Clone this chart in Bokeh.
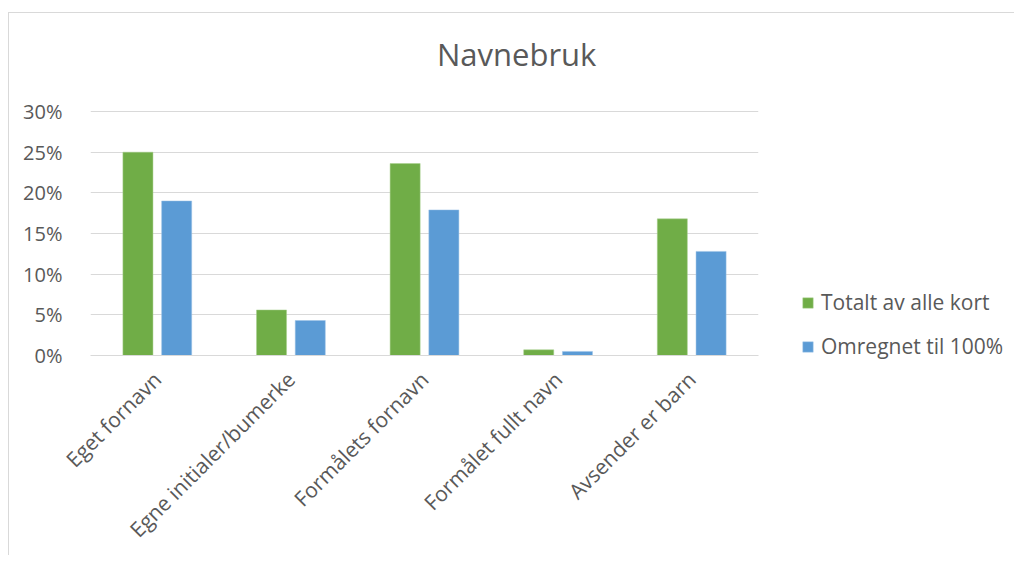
from bokeh.plotting import figure
from bokeh.models import ColumnDataSource, FactorRange, Legend, LegendItem, NumeralTickFormatter, FixedTicker, Label
from bokeh.transform import dodge
from bokeh.embed import file_html
from bokeh.resources import INLINE
import math

categories = ["Eget fornavn", "Egne initialer/bumerke", "Formålets fornavn", "Formålet fullt navn", "Avsender er barn"]
totalt = [0.250, 0.056, 0.236, 0.007, 0.168]
omregnet = [0.190, 0.043, 0.179, 0.005, 0.128]
series_names = ["Totalt av alle kort", "Omregnet til 100%"]
y_ticks = [0, 0.05, 0.10, 0.15, 0.20, 0.25, 0.30]
title_text = "Navnebruk"

FONT = "Open Sans"
TXT = "#595959"
GRID = "#d9d9d9"

# plot area: 0%..30% spans 244 px; frame extended upward to hold the title
FRAME_H = 342
Y_TOP = 0.30 * FRAME_H / 244

src = ColumnDataSource(dict(cat=categories, t=totalt, o=omregnet))

p = figure(x_range=FactorRange(*categories), y_range=(0, Y_TOP),
           frame_width=668, frame_height=FRAME_H, output_backend="svg", toolbar_location=None,
           min_border_left=81, min_border_right=245, min_border_top=0, min_border_bottom=195)

p.styles = {"border-left": f"1px solid {GRID}", "border-top": f"1px solid {GRID}",
            "margin-top": "12px", "margin-left": "8px"}

r1 = p.vbar(x=dodge("cat", -0.145, range=p.x_range), top="t", width=0.225, source=src,
            fill_color="#70AD47", line_color="#A9D18E", line_width=0.5)
r2 = p.vbar(x=dodge("cat", 0.145, range=p.x_range), top="o", width=0.225, source=src,
            fill_color="#5B9BD5", line_color="#9DC3E6", line_width=0.5)

title = Label(x=3.19, y=0.3705, text=title_text,
              text_font=FONT, text_font_size="31px", text_color=TXT,
              text_baseline="alphabetic", text_align="center")
p.add_layout(title)

p.outline_line_color = None
p.xgrid.grid_line_color = None
p.ygrid.grid_line_color = GRID
p.ygrid.grid_line_width = 1

p.yaxis.ticker = FixedTicker(ticks=y_ticks)
p.yaxis.formatter = NumeralTickFormatter(format="0%")
p.yaxis.axis_line_color = None
p.yaxis.major_tick_line_color = None
p.yaxis.minor_tick_line_color = None
p.yaxis.major_label_text_font = FONT
p.yaxis.major_label_text_font_size = "20px"
p.yaxis.major_label_text_color = TXT
p.yaxis.major_label_standoff = 22

p.xaxis.axis_line_color = GRID
p.xaxis.major_tick_line_color = None
p.xaxis.minor_tick_line_color = None
p.xaxis.major_label_orientation = math.pi / 4
p.xaxis.major_label_text_font = FONT
p.xaxis.major_label_text_font_size = "21px"
p.xaxis.major_label_text_color = TXT
p.xaxis.major_label_standoff = 14

legend = Legend(items=[LegendItem(label=series_names[0], renderers=[r1]),
                       LegendItem(label=series_names[1], renderers=[r2])],
                location=(43, -5), orientation="vertical")
legend.border_line_color = None
legend.background_fill_alpha = 0
legend.padding = 0
legend.margin = 0
legend.spacing = 16
legend.glyph_width = 13
legend.glyph_height = 13
legend.label_height = 20
legend.label_standoff = 7
legend.label_text_font = FONT
legend.label_text_font_size = "21px"
legend.label_text_color = TXT
p.add_layout(legend, "right")

open("out.html", "w").write(file_html(p, INLINE))
